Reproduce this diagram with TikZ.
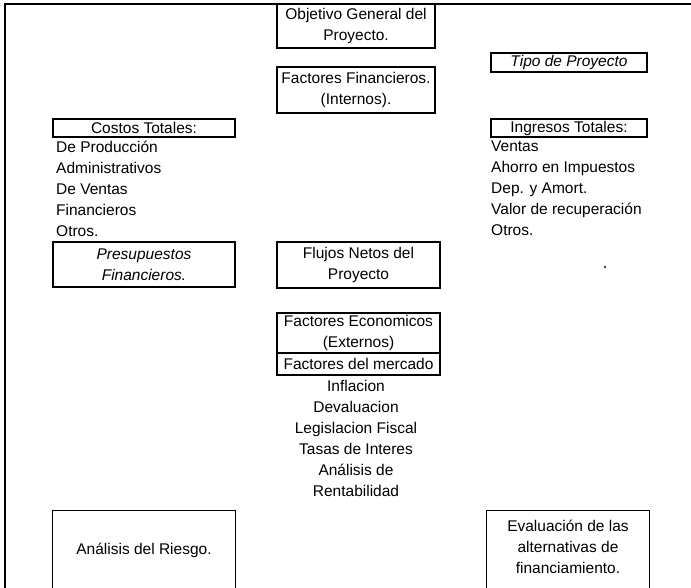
\documentclass[tikz,border=0pt]{standalone}
\usepackage{fontspec}
\setmainfont{Liberation Sans}
\usetikzlibrary{positioning}

\tikzset{
  box/.style={draw,line width=1.3pt,align=center,inner sep=0pt},
  open/.style={align=center,inner sep=0pt},
  lst/.style={align=left,inner sep=0pt,anchor=west},
}

\begin{document}
\begin{tikzpicture}[x=1pt,y=-1pt,font=\fontsize{15.5}{21}\selectfont]
\useasboundingbox (0,0) rectangle (691,588);
\draw[line width=1.3pt] (5,588) -- (5,4) -- (691,4);

% central column
\node[box,minimum width=158pt,minimum height=44pt] (obj) at (356,26) {Objetivo General del\\Proyecto.};
\node[box,minimum width=158pt,minimum height=46pt] (finan) at (356,90) {Factores Financieros.\\(Internos).};
\node[box,minimum width=163pt,minimum height=46pt] (flujos) at (358.5,265) {Flujos Netos del\\Proyecto};
\node[box,minimum width=163pt,minimum height=40pt] (econ) at (358.5,333) {Factores Economicos\\(Externos)};
\node[box,minimum width=163pt,minimum height=22pt] (merc) at (358.5,364) {Factores del mercado};
\node[open] (factlist) at (356,438) {Inflacion\\Devaluacion\\Legislacion Fiscal\\Tasas de Interes\\Análisis de\\Rentabilidad};

% left column
\node[box,minimum width=182pt,minimum height=18pt] (costos) at (144,128) {Costos Totales:};
\node[lst] (costlist) at (56,188.5) {De Producción\\Administrativos\\De Ventas\\Financieros\\Otros.};
\node[box,minimum width=182pt,minimum height=45pt,font=\fontsize{15.5}{21}\selectfont\itshape] (presup) at (144,264.5) {Presupuestos\\Financieros.};
\node[open,minimum width=182pt,minimum height=78pt] (riesgo) at (144,550) {Análisis del Riesgo.};
\draw[line width=1.3pt] (riesgo.south west) -- (riesgo.north west) -- (riesgo.north east) -- (riesgo.south east);

% right column
\node[box,minimum width=156pt,minimum height=19pt,font=\fontsize{15.5}{21}\selectfont\itshape] (tipo) at (569,62.5) {Tipo de Proyecto};
\node[box,minimum width=156pt,minimum height=18pt] (ingresos) at (569,128) {Ingresos Totales:};
\node[lst] (inglist) at (491,188.5) {Ventas\\Ahorro en Impuestos\\Dep. y Amort.\\Valor de recuperación\\Otros.};
\fill (605,267) circle (1.2pt);
\node[open,minimum width=162pt,minimum height=78pt] (eval) at (568,550) {};
\node[open] (evaltext) at (568,547) {Evaluación de las\\alternativas de\\financiamiento.};
\draw[line width=1.3pt] (eval.south west) -- (eval.north west) -- (eval.north east) -- (eval.south east);
\end{tikzpicture}
\end{document}
